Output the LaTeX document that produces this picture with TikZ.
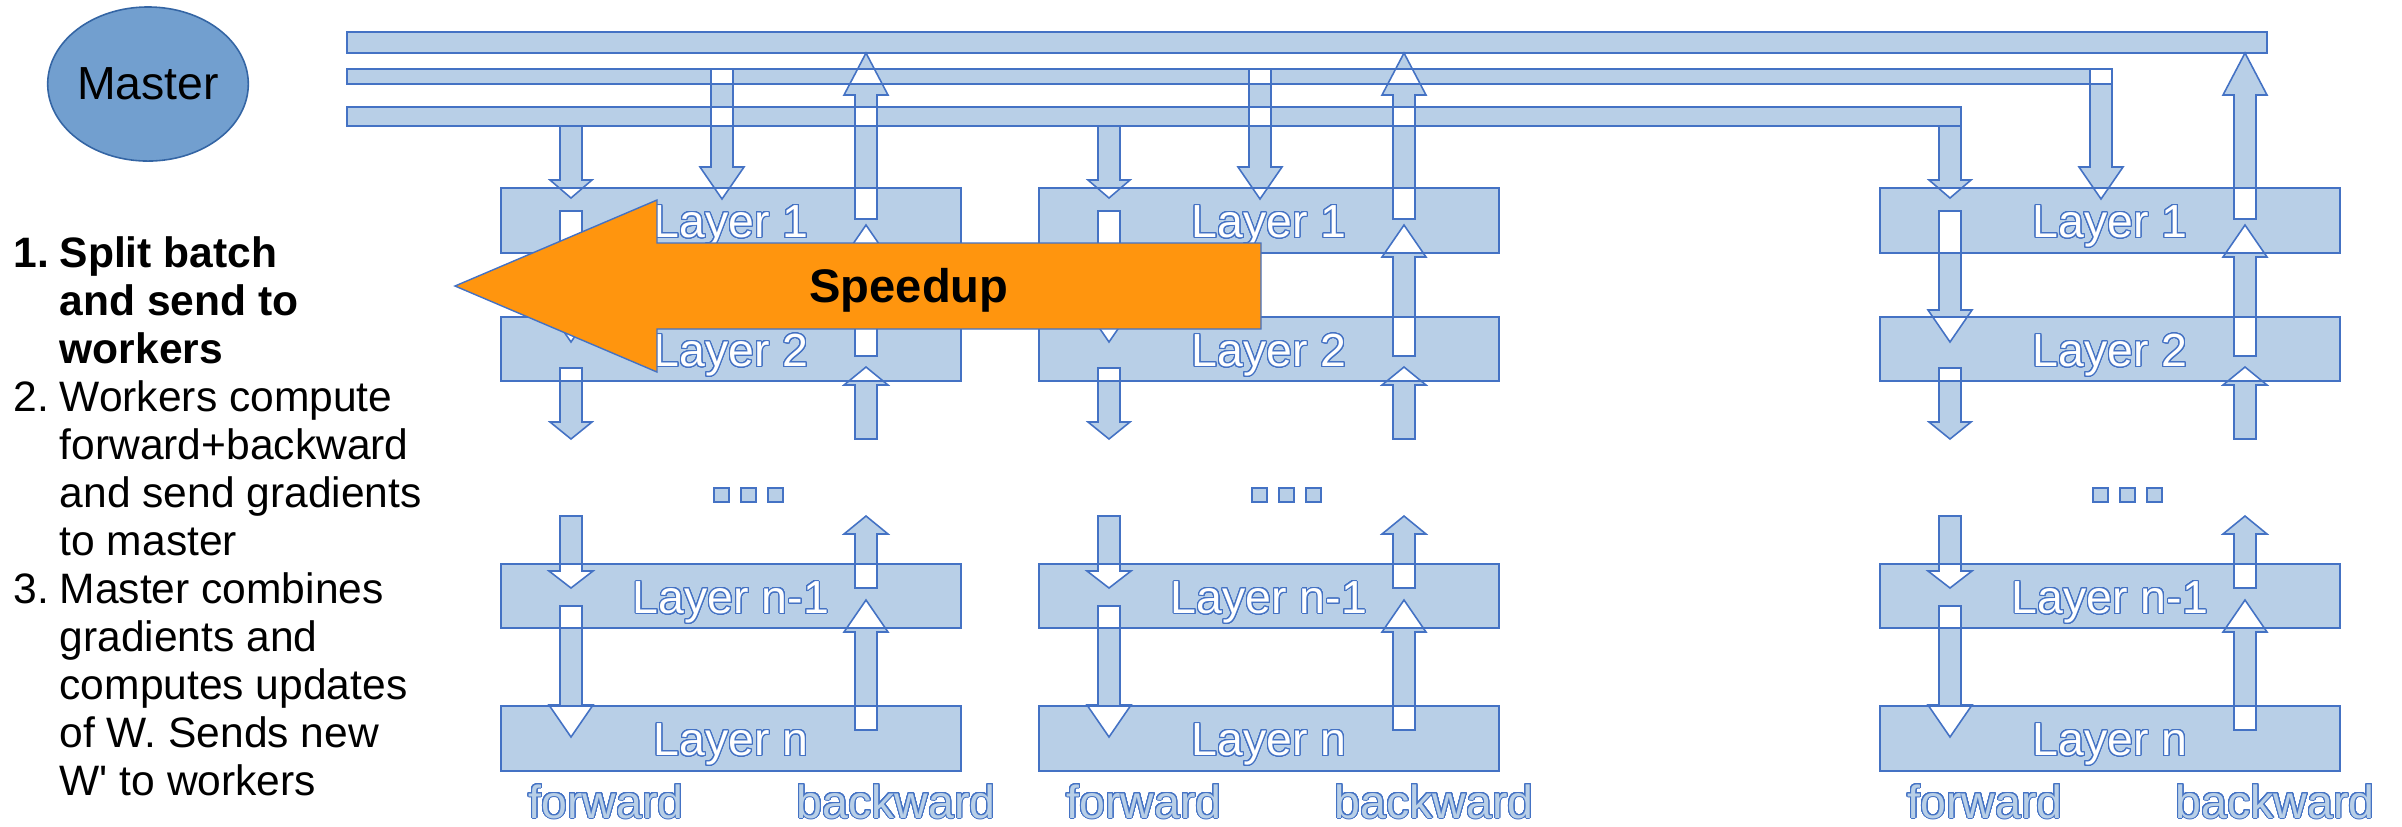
\documentclass[tikz,border=0pt]{standalone}
\usepackage{fontspec}
\setmainfont{Liberation Sans}[Ligatures=TeXOff]
\usepackage[copies]{contour}
\contournumber{32}
\contourlength{0.28pt}
\usetikzlibrary{shapes.geometric}
\definecolor{boxfill}{RGB}{184,207,231}
\definecolor{bline}{RGB}{68,114,196}
\definecolor{mfill}{RGB}{114,159,207}
\definecolor{mline}{RGB}{52,101,164}
\definecolor{sorange}{RGB}{255,149,14}
\tikzset{
  blueshape/.style={fill=boxfill,draw=bline,line width=0.45pt,even odd rule},
  laytext/.style={anchor=base,inner sep=0pt,font=\fontsize{13.2}{15}\selectfont,text=white},
  lbltext/.style={anchor=base,inner sep=0pt,font=\fontsize{13.2}{15}\selectfont,text=boxfill},
  listtext/.style={anchor=base west,inner sep=0pt,font=\fontsize{12.1}{14}\selectfont},
}
\begin{document}
\begin{tikzpicture}[x=0.01cm,y=-0.01cm]
\useasboundingbox (0,0) rectangle (2402,826);
% bars, layer boxes, block arrows and dots in one even-odd path
\path[blueshape]
  (347,32) rectangle (2267,53)
  (347,69) rectangle (2112,84)
  (347,107) rectangle (1961,126)
  \foreach \off in {0,538,1379} {
    \foreach \ya/\yb in {188/253,317/381,564/628,706/771} { (501+\off,\ya) rectangle (961+\off,\yb) }
    \foreach \xx in {714,741,768} { (\xx+\off,488) rectangle (\xx+15+\off,502) }
    \foreach \px/\pa/\pb/\pc/\pw in {571/126/180/198/21, 722/69/167/199/22, 866/219/95/53/22,
        571/211/310/342/22, 866/356/257/225/22, 571/368/422/439/21, 866/439/385/367/22,
        571/516/571/588/22, 866/588/534/516/22, 571/606/705/737/22, 866/730/632/600/22} {
      (\px+\off-11,\pa) -- (\px+\off-11,\pb) -- (\px+\off-\pw,\pb) -- (\px+\off,\pc)
      -- (\px+\off+\pw,\pb) -- (\px+\off+11,\pb) -- (\px+\off+11,\pa) -- cycle
    }
  };
% layer texts and labels
\foreach \off/\k in {0/a,538/b,1379/c} {
  \foreach \yy/\lt/\j in {237.5/1/1,366.5/2/2,613.5/n-1/3,755.5/n/4}
    \node[laytext] (lay\k\j) at (731+\off,\yy) {\contour{bline}{Layer \lt}};
  \node[lbltext] (fw\k) at (606+\off,818) {\contour{bline}{forward}};
  \node[lbltext] (bw\k) at (896+\off,818) {\contour{bline}{backward}};
}
% master
\node[ellipse,draw=mline,fill=mfill,line width=0.45pt,inner sep=0pt,
      minimum width=1.92cm,minimum height=1.54cm,font=\fontsize{13.2}{15}\selectfont]
      (master) at (148,84) {Master};
% speedup arrow
\path[fill=sorange,draw=bline,line width=0.4pt]
  (1261,243) -- (657,243) -- (657,200) -- (455,286) -- (657,372) -- (657,329) -- (1261,329) -- cycle;
\node[anchor=base,inner sep=0pt,font=\bfseries\fontsize{13.4}{15}\selectfont] (speed) at (909,302) {Speedup};
% list
\node[listtext,font=\bfseries\fontsize{12.1}{14}\selectfont] (n1) at (13,267) {1.};
\node[listtext,font=\bfseries\fontsize{12.1}{14}\selectfont] (t1) at (59,267) {Split batch};
\node[listtext,font=\bfseries\fontsize{12.1}{14}\selectfont] (t2) at (59,315) {and send to};
\node[listtext,font=\bfseries\fontsize{12.1}{14}\selectfont] (t3) at (59,363) {workers};
\node[listtext] (n2) at (13,411) {2.};
\node[listtext] (t4) at (59,411) {Workers compute};
\node[listtext] (t5) at (59,459) {forward+backward};
\node[listtext] (t6) at (59,507) {and send gradients};
\node[listtext] (t7) at (59,555) {to master};
\node[listtext] (n3) at (13,603) {3.};
\node[listtext] (t8) at (59,603) {Master combines};
\node[listtext] (t9) at (59,651) {gradients and};
\node[listtext] (t10) at (59,699) {computes updates};
\node[listtext] (t11) at (59,747) {of W. Sends new};
\node[listtext] (t12) at (59,795) {W' to workers};
\end{tikzpicture}
\end{document}
